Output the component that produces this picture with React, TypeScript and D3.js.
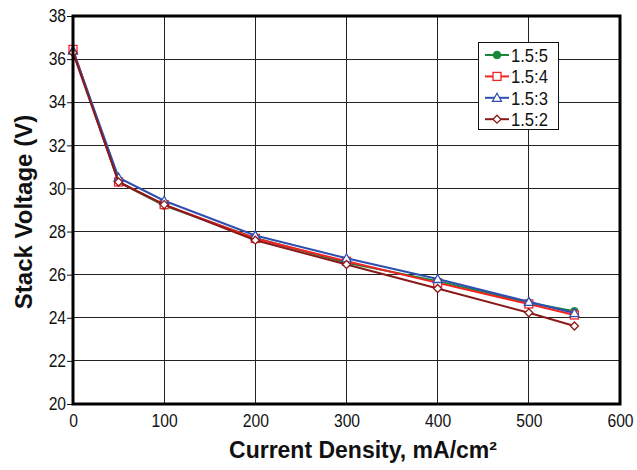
import { useEffect, useRef } from "react";
import * as d3 from "d3";

const currentDensity = [0, 50, 100, 200, 300, 400, 500, 550];
const seriesNames = ["1.5:5", "1.5:4", "1.5:3", "1.5:2"];
const ratio155 = [36.4, 30.3, 29.2, 27.7, 26.55, 25.7, 24.7, 24.3];
const ratio154 = [36.45, 30.3, 29.25, 27.68, 26.62, 25.62, 24.64, 24.13];
const ratio153 = [36.4, 30.5, 29.43, 27.82, 26.76, 25.8, 24.74, 24.22];
const ratio152 = [36.3, 30.3, 29.25, 27.6, 26.47, 25.36, 24.23, 23.62];
const xTicks = [0, 100, 200, 300, 400, 500, 600];
const yTicks = [20, 22, 24, 26, 28, 30, 32, 34, 36, 38];

const colors = ["#17873a", "#f52222", "#2f4fb0", "#8a1a1a"];
const markers = ["circle", "square", "triangle", "diamond"];

const W = 637;
const H = 470;
const left = 73, right = 620, top = 16, bottom = 404;
const font = "'Liberation Sans', Arial, sans-serif";

const App = () => {
  const svgRef = useRef<SVGSVGElement>(null);

  useEffect(() => {
    const svg = d3.select(svgRef.current);
    svg.selectAll("*").remove();
    const series = [ratio155, ratio154, ratio153, ratio152];

    const x = d3.scaleLinear().domain([0, 600]).range([left, right]);
    const y = d3.scaleLinear().domain([20, 38]).range([bottom, top]);

    svg.append("rect").attr("width", W).attr("height", H).attr("fill", "#fff");

    // grid
    const grid = svg.append("g").attr("stroke", "#222").attr("stroke-width", 1).attr("shape-rendering", "crispEdges");
    yTicks.slice(1, -1).forEach(t => {
      grid.append("line").attr("x1", left).attr("x2", right).attr("y1", y(t)).attr("y2", y(t));
    });
    xTicks.slice(1, -1).forEach(t => {
      grid.append("line").attr("x1", x(t)).attr("x2", x(t)).attr("y1", top).attr("y2", bottom);
    });

    // axes (condensed looking labels)
    const yAxis = d3.axisLeft(y).tickValues(yTicks).tickSize(6).tickPadding(2).tickFormat(d3.format("d"));
    const gy = svg.append("g").attr("transform", `translate(${left},0)`).call(yAxis);
    gy.select(".domain").remove();
    gy.selectAll("text").attr("font-family", font).attr("font-size", 18).attr("fill", "#111")
      .attr("transform", "scale(0.87,1)");
    gy.selectAll("line").attr("stroke", "#111");

    const xAxis = d3.axisBottom(x).tickValues(xTicks).tickSize(0).tickPadding(10).tickFormat(d3.format("d"));
    const gx = svg.append("g").attr("transform", `translate(0,${bottom})`).call(xAxis);
    gx.select(".domain").remove();
    gx.selectAll("text").attr("font-family", font).attr("font-size", 18).attr("fill", "#111")
      .attr("transform", "scale(0.87,1)");

    // series
    const line = d3.line<number>().x((d, i) => x(currentDensity[i])).y(d => y(d));
    series.forEach((vals, s) => {
      const g = svg.append("g");
      g.append("path").datum(vals).attr("d", line).attr("fill", "none")
        .attr("stroke", colors[s]).attr("stroke-width", 2);
      vals.forEach((v, i) => drawMarker(g, markers[s], x(currentDensity[i]), y(v), colors[s]));
    });

    // frame
    svg.append("rect").attr("x", left).attr("y", top).attr("width", right - left).attr("height", bottom - top)
      .attr("fill", "none").attr("stroke", "#000").attr("stroke-width", 3);

    // legend
    const lg = svg.append("g");
    lg.append("rect").attr("x", 478.5).attr("y", 42.5).attr("width", 80).attr("height", 87)
      .attr("fill", "#fff").attr("stroke", "#111").attr("stroke-width", 1);
    seriesNames.forEach((name, s) => {
      const ly = 55 + s * 21.4;
      lg.append("line").attr("x1", 485).attr("x2", 509).attr("y1", ly).attr("y2", ly)
        .attr("stroke", colors[s]).attr("stroke-width", 2);
      drawMarker(lg, markers[s], 497, ly, colors[s]);
      lg.append("g").attr("transform", `translate(511,${ly + 7}) scale(0.9,1)`)
        .append("text").text(name)
        .attr("font-family", font).attr("font-size", 18.5).attr("fill", "#111");
    });

    // titles
    svg.append("text").attr("x", 363).attr("y", 458).attr("text-anchor", "middle")
      .attr("font-family", font).attr("font-weight", "bold").attr("font-size", 23).attr("fill", "#111")
      .text("Current Density, mA/cm²");
    svg.append("text").attr("transform", `translate(32,212) rotate(-90)`)
      .attr("text-anchor", "middle")
      .attr("font-family", font).attr("font-weight", "bold").attr("font-size", 24).attr("fill", "#111")
      .text("Stack Voltage (V)");

    return () => {
      svg.selectAll("*").remove();
    };
  }, []);

  return (
    <svg ref={svgRef} width={W} height={H} style={{ position: "absolute", left: 0, top: 0 }}></svg>
  );
};

function drawMarker(g: any, kind: string, cx: number, cy: number, color: string) {
  if (kind === "circle") {
    g.append("circle").attr("cx", cx).attr("cy", cy).attr("r", 3.8).attr("fill", color).attr("stroke", color);
  } else if (kind === "square") {
    g.append("rect").attr("x", cx - 4).attr("y", cy - 4).attr("width", 8).attr("height", 8)
      .attr("fill", "#fff").attr("stroke", color).attr("stroke-width", 1.3);
  } else if (kind === "triangle") {
    g.append("path").attr("d", `M${cx},${cy - 4.5}L${cx + 4.5},${cy + 3.5}L${cx - 4.5},${cy + 3.5}Z`)
      .attr("fill", "#fff").attr("stroke", color).attr("stroke-width", 1.3);
  } else {
    g.append("path").attr("d", `M${cx},${cy - 4}L${cx + 4},${cy}L${cx},${cy + 4}L${cx - 4},${cy}Z`)
      .attr("fill", "#fff").attr("stroke", color).attr("stroke-width", 1.3);
  }
}

export default App;
